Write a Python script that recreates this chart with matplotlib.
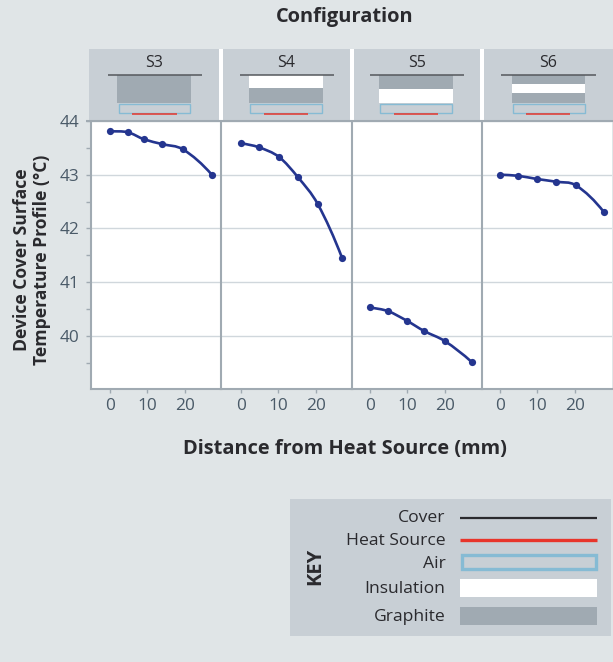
import matplotlib
matplotlib.use("Agg")
import matplotlib.pyplot as plt
from matplotlib.path import Path
from matplotlib.patches import PathPatch, Rectangle
import numpy as np

plt.rcParams["font.family"] = ["Open Sans", "DejaVu Sans"]

W, H = 613, 662
BG = "#e0e5e7"
BOX = "#c8cfd5"
SPINE = "#a0aab2"
GRID = "#d0d7dc"
TICK = "#4a5a68"
LINE = "#24358f"
DARK = "#2a2a2e"
GRAPHITE = "#a0aab2"
AIR = "#86bbd4"
RED = "#e8352b"

configs = ["S3", "S4", "S5", "S6"]
x_s3 = [0, 4.8, 9.1, 14, 19.6, 27.3]
x_s4 = [0, 4.8, 10.2, 15.3, 20.6, 27.1]
x_s5 = [0, 4.8, 9.9, 14.5, 20.1, 27.3]
x_s6 = [0, 4.8, 9.9, 15, 20.4, 27.9]
y_s3 = [43.81, 43.79, 43.66, 43.57, 43.47, 43.0]
y_s4 = [43.59, 43.51, 43.33, 42.95, 42.45, 41.45]
y_s5 = [40.53, 40.46, 40.28, 40.09, 39.9, 39.51]
y_s6 = [43.0, 42.98, 42.92, 42.87, 42.8, 42.3]
xs = [x_s3, x_s4, x_s5, x_s6]
ys = [y_s3, y_s4, y_s5, y_s6]

x_ticks = [0, 10, 20]
y_ticks = [40, 41, 42, 43, 44]

key_labels = ["Cover", "Heat Source", "Air", "Insulation", "Graphite"]

# schematic layers per configuration, top to bottom: (kind, y0, y1)
layers = [
    [("g", 75, 103)],
    [("w", 75, 88), ("g", 88, 103)],
    [("g", 75, 89), ("w", 89, 103)],
    [("g", 75, 84), ("w", 84, 93), ("g", 93, 103)],
]


def smooth_path(x, y):
    # hermite curve through the read points, written as a bezier path
    x = np.array(x, dtype=float)
    y = np.array(y, dtype=float)
    d = np.diff(y) / np.diff(x)
    m = np.zeros(len(x))
    m[1:-1] = (y[2:] - y[:-2]) / (x[2:] - x[:-2])
    m[0] = d[0]
    m[-1] = 2 * d[-1] - m[-2]
    verts = [(x[0], y[0])]
    codes = [Path.MOVETO]
    for i in range(len(x) - 1):
        h = (x[i + 1] - x[i]) / 3
        verts += [(x[i] + h, y[i] + m[i] * h),
                  (x[i + 1] - h, y[i + 1] - m[i + 1] * h),
                  (x[i + 1], y[i + 1])]
        codes += [Path.CURVE4] * 3
    return Path(verts, codes)


fig = plt.figure(figsize=(W / 100, H / 100), dpi=100, facecolor=BG)

# overlay in pixel coordinates for headers and key
bg = fig.add_axes([0, 0, 1, 1])
bg.set_xlim(0, W)
bg.set_ylim(H, 0)
bg.axis("off")


def rect(x0, y0, x1, y1, **kw):
    bg.add_patch(Rectangle((x0, y0), x1 - x0, y1 - y0, **kw))


strip_x = [(89, 219), (223, 350), (354, 480), (484, 613)]
cover_x = [(108, 202), (239.5, 333.5), (370, 464), (501, 596)]
body_x = [(117, 191), (249, 323), (379, 453), (512, 585)]
air_x = [(118.5, 190), (250, 321.5), (380, 452), (512.5, 584.5)]
heat_x = [(132, 177), (264, 308), (394, 438), (526, 570)]
label_x = [154.5, 286, 417, 548]

rect(219, 49, 223, 120, fc="white", lw=0)
rect(350, 49, 354, 120, fc="white", lw=0)
rect(480, 49, 484, 120, fc="white", lw=0)
for i, name in enumerate(configs):
    rect(strip_x[i][0], 49, strip_x[i][1], 120, fc=BOX, lw=0)
    bg.text(label_x[i], 63, name, ha="center", va="center", fontsize=11.5, color=DARK)
    for kind, y0, y1 in layers[i]:
        rect(body_x[i][0], y0, body_x[i][1], y1, fc=GRAPHITE if kind == "g" else "white", lw=0)
    bg.plot(cover_x[i], [74.5, 74.5], color="#55585c", lw=1.1, solid_capstyle="butt")
    rect(air_x[i][0], 103.5, air_x[i][1], 112.5, fc=BOX, ec=AIR, lw=1)
    bg.plot(heat_x[i], [113.8, 113.8], color=RED, lw=1.1, solid_capstyle="butt")

# key
rect(290, 499, 611, 636, fc=BOX, lw=0)
bg.text(315, 566, "KEY", rotation=90, ha="center", va="center",
        fontsize=14.5, fontweight="bold", color=DARK)
key_y = [518, 541, 564, 589, 617]
for lab, ky in zip(key_labels, key_y):
    bg.text(445.5, ky, lab, ha="right", va="center", fontsize=12.6, color=DARK)
bg.plot([460, 597], [518, 518], color=DARK, lw=1.6, solid_capstyle="butt")
bg.plot([460, 597], [540, 540], color=RED, lw=2.4, solid_capstyle="butt")
rect(461.5, 555, 595.5, 569, fc=BOX, ec=AIR, lw=2.4)
rect(460, 579, 597, 597, fc="white", lw=0)
rect(460, 607, 597, 625, fc=GRAPHITE, lw=0)

bg.text(345, 17, "Configuration", ha="center", va="center",
        fontsize=14.4, fontweight="bold", color=DARK)
bg.text(345, 449, "Distance from Heat Source (mm)", ha="center", va="center",
        fontsize=14.4, fontweight="bold", color=DARK)
bg.text(32, 260, "Device Cover Surface\nTemperature Profile (°C)", rotation=90,
        ha="center", va="center", multialignment="center", fontsize=12.6,
        fontweight="bold", color=DARK, linespacing=1.08)

# panels
panel_x = [(91, 221), (221, 351.5), (351.5, 482), (482, 612)]
zero_x = [110, 241, 370, 500]
px_per_unit = 3.73
for i in range(4):
    x0, x1 = panel_x[i]
    ax = fig.add_axes([x0 / W, 1 - 389 / H, (x1 - x0) / W, (389 - 121) / H])
    ax.set_facecolor("white")
    ax.set_xlim((x0 - zero_x[i]) / px_per_unit, (x1 - zero_x[i]) / px_per_unit)
    ax.set_ylim(39.01, 44)
    ax.set_xticks(x_ticks)
    ax.set_yticks(y_ticks)
    ax.set_yticks([39.5, 40.5, 41.5, 42.5, 43.5], minor=True)
    ax.grid(axis="y", which="major", color=GRID, lw=1)
    ax.set_axisbelow(True)
    for s in ["top", "right"]:
        ax.spines[s].set_visible(False)
    for s in ["left", "bottom"]:
        ax.spines[s].set_color(SPINE)
        ax.spines[s].set_linewidth(1.5)
    ax.tick_params(axis="x", length=3, width=1, color=SPINE, labelsize=12.4,
                   labelcolor=TICK, pad=3.5)
    ax.tick_params(axis="y", which="major", length=3.6, width=1, color=SPINE,
                   labelsize=12.4, labelcolor=TICK, pad=4.5, left=i == 0, labelleft=i == 0)
    ax.tick_params(axis="y", which="minor", length=3.6, width=1, color=SPINE, left=i == 0)
    ax.add_patch(PathPatch(smooth_path(xs[i], ys[i]), fc="none", ec=LINE, lw=1.9, zorder=3))
    ax.plot(xs[i], ys[i], "o", color=LINE, ms=5.2, mew=0, zorder=4, clip_on=False)

# top rule over the plot panels
bg.set_zorder(5)
bg.patch.set_alpha(0)
bg.plot([86, 613], [120.5, 120.5], color=SPINE, lw=1.5, solid_capstyle="butt")

fig.savefig("out.png", dpi=100, facecolor=BG)
